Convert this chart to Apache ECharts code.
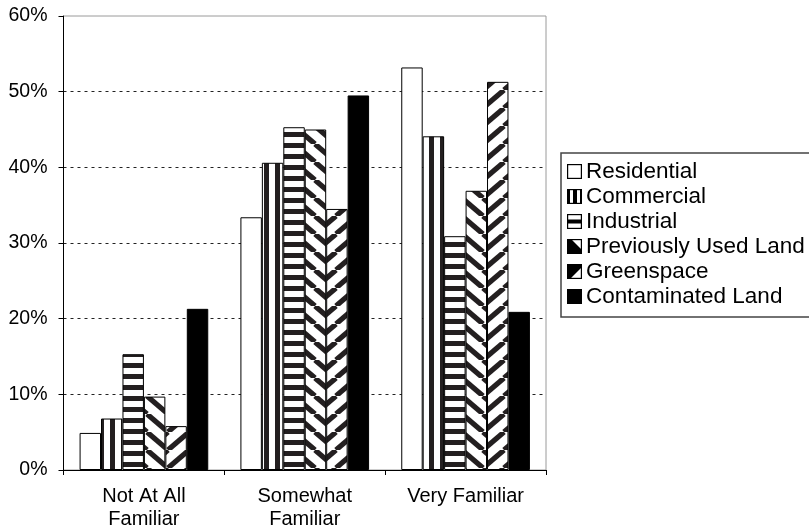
<!DOCTYPE html>
<html><head><meta charset="utf-8">
<script src="https://cdn.jsdelivr.net/npm/echarts@6/dist/echarts.min.js"></script>
<style>html,body{margin:0;padding:0;background:#fff}#c{width:809px;height:531px}</style>
</head><body><div id="c"></div>
<script>
const categories = ['Not At All\nFamiliar', 'Somewhat\nFamiliar', 'Very Familiar'];
const seriesNames = ['Residential', 'Commercial', 'Industrial', 'Previously Used Land', 'Greenspace', 'Contaminated Land'];
const residential = [4.9, 33.4, 53.2];
const commercial = [6.8, 40.6, 44.1];
const industrial = [15.3, 45.3, 30.9];
const previouslyUsed = [9.7, 45.0, 36.9];
const greenspace = [5.8, 34.5, 51.3];
const contaminated = [21.3, 49.5, 20.9];
const yTickLabels = ['0%', '10%', '20%', '30%', '40%', '50%', '60%'];

const FONT = 'Liberation Sans, Arial, sans-serif';

function tile(w, h, draw) {
  const c = document.createElement('canvas');
  c.width = w; c.height = h;
  const g = c.getContext('2d');
  g.fillStyle = '#fff'; g.fillRect(0, 0, w, h);
  g.fillStyle = '#000'; g.strokeStyle = '#000';
  draw(g, w, h);
  return c;
}
const patterns = {
  white: '#ffffff',
  vert: { image: tile(11, 11, (g) => { g.fillStyle = '#231f20'; g.fillRect(0, 0, 5, 11); }), repeat: 'repeat' },
  horiz: { image: tile(11, 11, (g) => { g.fillStyle = '#231f20'; g.fillRect(0, 0, 11, 5); }), repeat: 'repeat' },
  back: { image: tile(21, 18, (g, w, h) => {
    g.strokeStyle = '#231f20'; g.lineWidth = 5.2;
    for (let k = -1; k <= 1; k++) { g.beginPath(); g.moveTo(k * w, 0); g.lineTo(k * w + w, h); g.stroke(); }
  }), repeat: 'repeat' },
  fwd: { image: tile(21, 18, (g, w, h) => {
    g.strokeStyle = '#231f20'; g.lineWidth = 5.2;
    for (let k = -1; k <= 1; k++) { g.beginPath(); g.moveTo(k * w, h); g.lineTo(k * w + w, 0); g.stroke(); }
  }), repeat: 'repeat' },
  black: '#000000'
};

function icon(draw) {
  const c = document.createElement('canvas');
  c.width = 30; c.height = 30;
  const g = c.getContext('2d');
  g.scale(2, 2);
  g.fillStyle = '#fff'; g.fillRect(0, 0, 15, 15);
  g.fillStyle = '#000';
  draw(g);
  g.strokeStyle = '#000'; g.lineWidth = 1.2;
  g.strokeRect(0.6, 0.6, 13.8, 13.8);
  return 'image://' + c.toDataURL();
}
const icons = [
  icon(() => {}),
  icon((g) => { g.fillRect(0, 0, 3, 15); g.fillRect(6, 0, 4, 15); g.fillRect(13, 0, 2, 15); }),
  icon((g) => { g.fillRect(0, 5.5, 15, 4); }),
  icon((g) => { g.beginPath(); g.moveTo(0, 0); g.lineTo(4, 0); g.lineTo(15, 11); g.lineTo(15, 15); g.lineTo(0, 15); g.closePath(); g.fill(); }),
  icon((g) => { g.beginPath(); g.moveTo(0, 0); g.lineTo(15, 0); g.lineTo(15, 3); g.lineTo(3, 15); g.lineTo(0, 15); g.closePath(); g.fill(); }),
  icon((g) => { g.fillRect(0, 0, 15, 15); })
];

const values = [residential, commercial, industrial, previouslyUsed, greenspace, contaminated];
const fills = [patterns.white, patterns.vert, patterns.horiz, patterns.back, patterns.fwd, patterns.black];

const chart = echarts.init(document.getElementById('c'), null, { renderer: 'canvas' });
chart.setOption({
  animation: false,
  backgroundColor: '#fff',
  grid: { left: 63.5, right: 263, top: 16, bottom: 60.5, show: true, borderColor: '#9a9a9a', borderWidth: 1, backgroundColor: 'transparent' },
  legend: {
    orient: 'vertical', left: 561, top: 153,
    padding: [6, 8, 8, 6], itemGap: 0, itemWidth: 15, itemHeight: 15,
    borderColor: '#444', borderWidth: 1.5, backgroundColor: '#fff',
    textStyle: { fontFamily: FONT, fontSize: 22.5, lineHeight: 25, color: '#000', padding: [0, 0, 0, -1] },
    data: seriesNames.map((n, i) => ({ name: n, icon: icons[i] }))
  },
  xAxis: {
    type: 'category', data: categories,
    axisLine: { lineStyle: { color: '#000', width: 1 } },
    axisTick: { show: true, length: 5, lineStyle: { color: '#000' } },
    axisLabel: { fontFamily: FONT, fontSize: 20, lineHeight: 23, color: '#000', margin: 15, interval: 0 },
    splitLine: { show: false }
  },
  yAxis: {
    type: 'value', min: 0, max: 60, interval: 10,
    axisLine: { show: true, lineStyle: { color: '#000', width: 1 } },
    axisTick: { show: true, length: 5, lineStyle: { color: '#000' } },
    axisLabel: { fontFamily: FONT, fontSize: 19.5, color: '#000', margin: 16, formatter: (v) => yTickLabels[Math.round(v / 10)] },
    splitLine: { show: true, showMinLine: false, showMaxLine: false, lineStyle: { color: '#222', type: [3, 4], width: 1 } }
  },
  series: seriesNames.map((n, i) => ({
    name: n, type: 'bar', data: values[i],
    barGap: '0%', barCategoryGap: '20%',
    itemStyle: { color: fills[i], borderColor: '#000', borderWidth: 1 },
    emphasis: { disabled: true }
  }))
});
</script>
</body></html>
